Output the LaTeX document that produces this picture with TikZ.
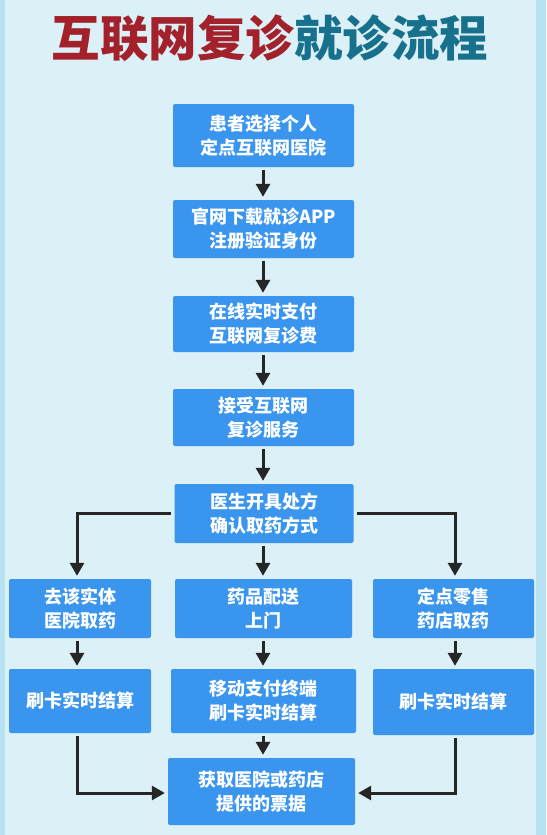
\documentclass[tikz,border=0pt]{standalone}
\usepackage{fontspec}
\newfontfamily\cjk{Noto Sans CJK SC}
\usetikzlibrary{arrows.meta}
\definecolor{bgc}{HTML}{DBF0F7}
\definecolor{edgec}{HTML}{B6E2F2}
\definecolor{boxc}{HTML}{3A95EE}
\definecolor{titlered}{HTML}{A3212B}
\definecolor{titleteal}{HTML}{17708C}
\definecolor{arrowc}{HTML}{262626}
\tikzset{
  flowbox/.style={fill=boxc, rounded corners=2pt, inner sep=0pt, align=center,
    text=white, font=\cjk\bfseries\fontsize{18pt}{24pt}\selectfont},
  flowarrow/.style={draw=arrowc, line width=3pt, -{Triangle[length=13pt,width=14pt]}},
}
\begin{document}
\begin{tikzpicture}[x=1pt,y=-1pt]
\useasboundingbox (0,0) rectangle (546,835);
\fill[bgc] (0,0) rectangle (546,835);
\fill[edgec] (0,0) rectangle (5,835);
\fill[edgec] (536,0) rectangle (546,835);
\node[font=\cjk\bfseries\fontsize{48.5pt}{54pt}\selectfont, inner sep=0pt] (title) at (270,38)
  {\textcolor{titlered}{互联网复诊}\textcolor{titleteal}{就诊流程}};
\node[flowbox, minimum width=181pt, minimum height=63pt] (b1) at (263.5,135.5) {患者选择个人\\定点互联网医院};
\node[flowbox, minimum width=181pt, minimum height=58pt] (b2) at (263.5,229) {官网下载就诊APP\\注册验证身份};
\node[flowbox, minimum width=181pt, minimum height=56pt] (b3) at (263.5,324) {在线实时支付\\互联网复诊费};
\node[flowbox, minimum width=181pt, minimum height=57pt] (b4) at (263.5,417.5) {接受互联网\\复诊服务};
\node[flowbox, minimum width=179pt, minimum height=59pt] (b5) at (264,513.5) {医生开具处方\\确认取药方式};
\node[flowbox, minimum width=142pt, minimum height=59pt] (l1) at (80,608.5) {去该实体\\医院取药};
\node[flowbox, minimum width=177pt, minimum height=59pt] (m1) at (263.5,608.5) {药品配送\\上门};
\node[flowbox, minimum width=161pt, minimum height=59pt] (r1) at (453.5,608.5) {定点零售\\药店取药};
\node[flowbox, minimum width=142pt, minimum height=64pt] (l2) at (80,701) {刷卡实时结算};
\node[flowbox, minimum width=185pt, minimum height=64pt] (m2) at (263.5,701) {移动支付终端\\刷卡实时结算};
\node[flowbox, minimum width=161pt, minimum height=66pt] (r2) at (453.5,702) {刷卡实时结算};
\node[flowbox, minimum width=187pt, minimum height=67pt] (f) at (261.5,791.5) {获取医院或药店\\提供的票据};
\begin{scope}[shorten <=3pt, shorten >=3pt]
\draw[flowarrow] (b1.south -| 263,0) -- (b2.north -| 263,0);
\draw[flowarrow] (b2.south -| 263,0) -- (b3.north -| 263,0);
\draw[flowarrow] (b3.south -| 263,0) -- (b4.north -| 263,0);
\draw[flowarrow] (b4.south -| 263,0) -- (b5.north -| 263,0);
\draw[flowarrow] (b5.south -| 263,0) -- (m1.north -| 263,0);
\draw[flowarrow] (m1.south -| 263,0) -- (m2.north -| 263,0);
\draw[flowarrow] (m2.south -| 263,0) -- (f.north -| 263,0);
\draw[flowarrow] (b5.west) -- (77,513.5) -- (l1.north -| 77,0);
\draw[flowarrow] (b5.east) -- (455,513.5) -- (r1.north -| 455,0);
\draw[flowarrow] (l1.south -| 77,0) -- (l2.north -| 77,0);
\draw[flowarrow] (r1.south -| 455,0) -- (r2.north -| 455,0);
\draw[flowarrow] (l2.south -| 77,0) -- (77,793) -- (f.west |- 0,793);
\draw[flowarrow] (r2.south -| 455,0) -- (455,793) -- (f.east |- 0,793);
\end{scope}
\end{tikzpicture}
\end{document}
